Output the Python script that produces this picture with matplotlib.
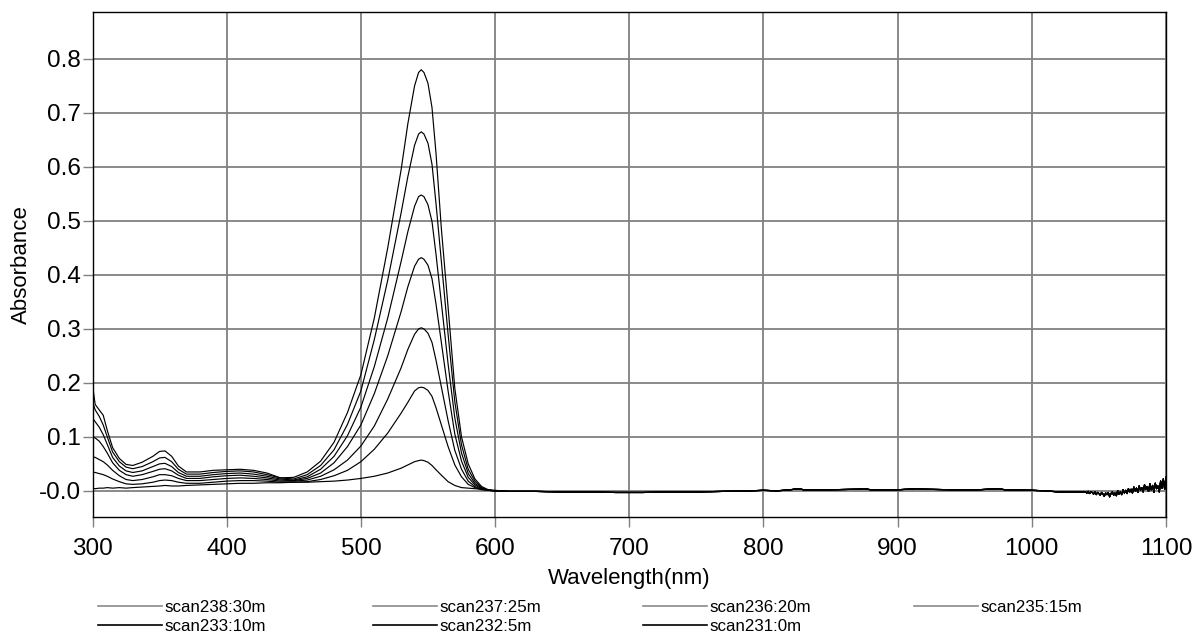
import matplotlib
matplotlib.use("Agg")
import matplotlib.pyplot as plt
from matplotlib.lines import Line2D

plt.rcParams['font.family'] = ['Liberation Sans', 'DejaVu Sans']

# ---- data ----
wl_vis = [300, 302, 305, 308, 311, 315, 320, 325, 330, 337, 345, 350, 354, 359, 364,
          370, 380, 390, 400, 410, 420, 430, 440, 450, 460, 470, 480, 490, 500, 510,
          520, 530, 535, 540, 543, 545, 547, 550, 553, 556, 560, 565, 570, 575, 580, 585, 590, 595, 600]

scan238 = [0.196, 0.160, 0.150, 0.140, 0.112, 0.080, 0.060, 0.049, 0.047, 0.053, 0.064, 0.073, 0.074, 0.064, 0.046,
           0.035, 0.035, 0.038, 0.039, 0.040, 0.038, 0.033, 0.024, 0.025, 0.035, 0.055, 0.090, 0.145, 0.215, 0.320,
           0.450, 0.595, 0.680, 0.750, 0.775, 0.780, 0.775, 0.755, 0.710, 0.625, 0.485, 0.340, 0.190, 0.100, 0.050,
           0.022, 0.008, 0.002, 0.000]
scan237 = [0.165, 0.150, 0.138, 0.122, 0.100, 0.072, 0.054, 0.044, 0.041, 0.045, 0.054, 0.061, 0.062, 0.054, 0.040,
           0.031, 0.031, 0.034, 0.036, 0.037, 0.035, 0.030, 0.024, 0.022, 0.030, 0.047, 0.076, 0.123, 0.185, 0.280,
           0.390, 0.515, 0.582, 0.640, 0.661, 0.665, 0.661, 0.644, 0.605, 0.532, 0.425, 0.290, 0.165, 0.085, 0.040,
           0.018, 0.006, 0.001, 0.000]
scan236 = [0.135, 0.128, 0.118, 0.104, 0.086, 0.062, 0.046, 0.037, 0.034, 0.037, 0.045, 0.050, 0.051, 0.045, 0.034,
           0.027, 0.027, 0.030, 0.032, 0.033, 0.031, 0.027, 0.022, 0.020, 0.026, 0.040, 0.064, 0.102, 0.155, 0.230,
           0.320, 0.425, 0.480, 0.527, 0.545, 0.548, 0.545, 0.530, 0.499, 0.438, 0.348, 0.235, 0.135, 0.070, 0.032,
           0.014, 0.005, 0.001, 0.000]
scan235 = [0.100, 0.098, 0.092, 0.082, 0.070, 0.052, 0.038, 0.030, 0.027, 0.030, 0.036, 0.040, 0.041, 0.037, 0.029,
           0.023, 0.023, 0.026, 0.028, 0.029, 0.027, 0.024, 0.020, 0.019, 0.023, 0.033, 0.052, 0.082, 0.122, 0.180,
           0.250, 0.332, 0.378, 0.416, 0.429, 0.432, 0.429, 0.418, 0.393, 0.346, 0.275, 0.185, 0.105, 0.055, 0.025,
           0.011, 0.004, 0.001, 0.000]
scan233 = [0.063, 0.062, 0.058, 0.054, 0.048, 0.038, 0.028, 0.021, 0.019, 0.021, 0.026, 0.030, 0.030, 0.028, 0.023,
           0.019, 0.019, 0.021, 0.023, 0.024, 0.023, 0.021, 0.018, 0.018, 0.020, 0.027, 0.039, 0.057, 0.083, 0.120,
           0.170, 0.228, 0.262, 0.290, 0.300, 0.302, 0.300, 0.292, 0.275, 0.242, 0.192, 0.130, 0.075, 0.040, 0.018,
           0.008, 0.003, 0.001, 0.000]
scan232 = [0.035, 0.034, 0.032, 0.030, 0.027, 0.022, 0.017, 0.013, 0.012, 0.013, 0.016, 0.019, 0.020, 0.019, 0.016,
           0.014, 0.014, 0.016, 0.018, 0.019, 0.019, 0.018, 0.016, 0.016, 0.017, 0.021, 0.028, 0.038, 0.054, 0.077,
           0.107, 0.144, 0.164, 0.185, 0.191, 0.192, 0.191, 0.186, 0.175, 0.154, 0.122, 0.082, 0.048, 0.026, 0.012,
           0.006, 0.002, 0.001, 0.000]
scan231 = [0.005, 0.004, 0.005, 0.005, 0.006, 0.005, 0.006, 0.005, 0.006, 0.007, 0.008, 0.009, 0.010, 0.009, 0.009,
           0.010, 0.011, 0.012, 0.013, 0.014, 0.014, 0.015, 0.015, 0.016, 0.016, 0.017, 0.018, 0.020, 0.023, 0.027,
           0.033, 0.042, 0.048, 0.054, 0.056, 0.057, 0.056, 0.053, 0.047, 0.039, 0.029, 0.017, 0.010, 0.006, 0.005,
           0.004, 0.003, 0.002, 0.001]

# shared near-IR baseline (all scans overlap here)
wl_nir = [610, 630, 650, 670, 690, 710, 730, 750, 770, 790, 800, 810, 820, 826, 830, 850, 870, 875, 880,
          900, 915, 920, 940, 960, 975, 980, 1000, 1010, 1020, 1030,
          1040, 1041, 1042, 1043, 1044, 1045, 1046, 1047, 1048, 1049, 1050, 1051, 1052, 1053, 1054, 1055,
          1056, 1057, 1058, 1059, 1060, 1061, 1062, 1063, 1064, 1065, 1066, 1067, 1068, 1069, 1070, 1071,
          1072, 1073, 1074, 1075, 1076, 1077, 1078, 1079, 1080, 1081, 1082, 1083, 1084, 1085, 1086, 1087,
          1088, 1089, 1090, 1091, 1092, 1093, 1094, 1095, 1096, 1097, 1098, 1099, 1100]
abs_nir = [-0.001, -0.001, -0.002, -0.002, -0.003, -0.003, -0.002, -0.002, -0.001, 0.000, 0.001, 0.000, 0.002, 0.004,
           0.002, 0.002, 0.003, 0.004, 0.002, 0.002, 0.004, 0.003, 0.002, 0.002, 0.004, 0.002, 0.001, 0.000, -0.002,
           -0.002,
           -0.002, -0.004, -0.001, -0.005, -0.002, -0.003, -0.006, -0.002, -0.007, -0.003, -0.005, -0.008, -0.003,
           -0.006, -0.010, -0.004, -0.007, -0.003, -0.011, -0.005, -0.002, -0.008, -0.004, -0.009, 0.000, -0.006,
           -0.002, -0.007, 0.002, -0.004, 0.001, -0.005, 0.004, -0.002, 0.003, -0.004, 0.007, 0.000, 0.005, -0.003,
           0.009, 0.001, 0.006, -0.002, 0.011, 0.003, 0.008, -0.001, 0.013, 0.002, 0.010, -0.003, 0.014, 0.004,
           0.009, -0.002, 0.018, 0.005, 0.022, 0.003, 0.025]

labels = ["scan238:30m", "scan237:25m", "scan236:20m", "scan235:15m",
          "scan233:10m", "scan232:5m", "scan231:0m"]
series = [scan238, scan237, scan236, scan235, scan233, scan232, scan231]
legend_colors = ["#8a8a8a", "#8a8a8a", "#8a8a8a", "#8a8a8a", "black", "black", "black"]

x_ticks = [300, 400, 500, 600, 700, 800, 900, 1000, 1100]
y_ticks = [0.0, 0.1, 0.2, 0.3, 0.4, 0.5, 0.6, 0.7, 0.8]
y_tick_labels = ["-0.0", "0.1", "0.2", "0.3", "0.4", "0.5", "0.6", "0.7", "0.8"]

# ---- figure ----
W, H = 1197, 638
fig = plt.figure(figsize=(W / 100, H / 100), dpi=100)
ax = fig.add_axes([92.5 / W, 1 - 517.3 / H, (1166 - 92.5) / W, (517.3 - 12) / H])

wl_all = wl_vis + wl_nir
for s in series:
    ax.plot(wl_all, s + abs_nir, color="black", lw=0.85)

ax.set_xlim(300, 1100)
ax.set_ylim(-0.049, 0.887)
ax.set_xticks(x_ticks)
ax.set_yticks(y_ticks)
ax.set_yticklabels(y_tick_labels)
ax.grid(True, color="#808080", lw=1.3)
ax.set_axisbelow(True)
ax.tick_params(axis="both", labelsize=17.5, length=7, width=1, color="#808080", direction="out")
ax.tick_params(axis="y", pad=1.5)
ax.tick_params(axis="x", pad=8)
for sp in ax.spines.values():
    sp.set_color("black")
    sp.set_linewidth(1.0)

ax.set_xlabel("Wavelength(nm)", fontsize=16, labelpad=6)
ax.set_ylabel("Absorbance", fontsize=16, labelpad=4.5)

# legend: one small legend per column, so each column sits where it does in the reference
handles = [Line2D([], [], color=c, lw=1.2) for c in legend_colors]
col_x = [98, 373, 643, 914]
columns = [[0, 4], [1, 5], [2, 6], [3]]
for cx, idx in zip(col_x, columns):
    fig.legend([handles[i] for i in idx], [labels[i] for i in idx],
               loc="upper left", bbox_to_anchor=(cx / W, 1 - 600 / H), ncol=1,
               frameon=False, fontsize=12.2, handlelength=3.75, handletextpad=0.2,
               labelspacing=0.22, borderpad=0, borderaxespad=0)

fig.savefig("out.png", dpi=100)
